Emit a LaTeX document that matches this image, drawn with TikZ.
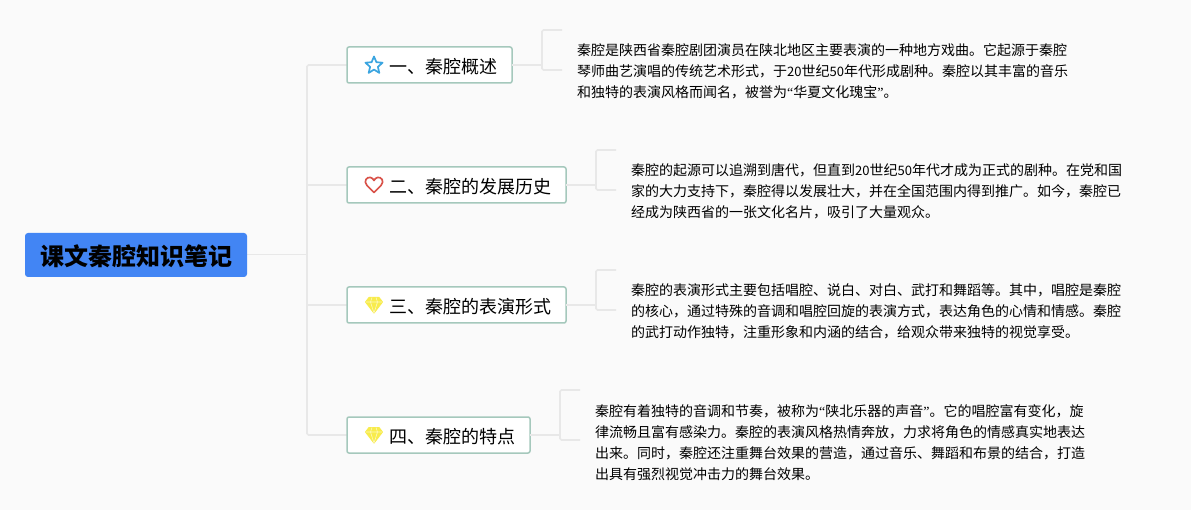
\documentclass[tikz,border=0pt]{standalone}
\usepackage{fontspec}
\setmainfont{Noto Sans CJK SC}
\newfontfamily\dgfont[Scale=0.93]{Noto Sans CJK SC}
\newfontfamily\qfont{Liberation Serif}
\newcommand{\dg}[1]{{\dgfont #1}}
\newcommand{\qopen}{{\qfont “}}
\newcommand{\qclose}{{\qfont ”}}
\definecolor{bgc}{HTML}{FAFAFA}
\definecolor{linec}{HTML}{E8E8E8}
\definecolor{edgec}{HTML}{A5C8BC}
\definecolor{rootc}{HTML}{4285F4}
\definecolor{starc}{HTML}{3BA5E0}
\definecolor{heartc}{HTML}{D9534A}
\definecolor{gemc}{HTML}{F8EC4C}
\definecolor{gemline}{HTML}{FDF8C0}
\tikzset{
  rootbox/.style={draw=none,fill=rootc,rounded corners=3pt,minimum width=222pt,minimum height=44pt,inner sep=0pt,outer sep=0pt,anchor=north west},
  topicbox/.style={draw=edgec,line width=1.5pt,fill=white,rounded corners=2pt,minimum height=36pt,inner sep=0pt,outer sep=0pt,anchor=north west},
  toplabel/.style={inner sep=0pt,anchor=west,font=\fontsize{18}{22}\selectfont},
  bodytext/.style={inner sep=0pt,anchor=west,align=left,font=\fontsize{14}{21}\selectfont},
  link/.style={draw=linec,line width=1.7pt,rounded corners=1.5pt},
  glyph/.style={line width=1.7pt,line join=round},
}
\begin{document}
\begin{tikzpicture}[x=1pt,y=-1pt]
\useasboundingbox[fill=bgc] (0,0) rectangle (1191,510);
% trunk
\coordinate (tt) at (307,65);
\coordinate (tm) at (307,254.5);
\coordinate (t2) at (307,185);
\coordinate (t3) at (307,305);
\coordinate (tb) at (307,435);
% brackets
\coordinate (s1t) at (562,30); \coordinate (k1t) at (542,30); \coordinate (k1b) at (542,70); \coordinate (s1b) at (562,70);
\coordinate (s2t) at (616,150); \coordinate (k2t) at (596,150); \coordinate (k2b) at (596,190); \coordinate (s2b) at (616,190);
\coordinate (s3t) at (616,270); \coordinate (k3t) at (596,270); \coordinate (k3b) at (596,310); \coordinate (s3b) at (616,310);
\coordinate (s4t) at (580,390); \coordinate (k4t) at (560,390); \coordinate (k4b) at (560,440); \coordinate (s4b) at (580,440);
% links drawn first
\coordinate (rootE) at (247,254.5);
\coordinate (b1W) at (347,65); \coordinate (b2W) at (347,185); \coordinate (b3W) at (347,305); \coordinate (b4W) at (347,435);
\draw[link] (rootE) -- (tm);
\draw[link] (b1W) -- (tt) -- (tb) -- (b4W);
\draw[link] (t2) -- (b2W);
\draw[link] (t3) -- (b3W);
\draw[link] (s1t) -- (k1t) -- (k1b) -- (s1b);
\draw[link] (s2t) -- (k2t) -- (k2b) -- (s2b);
\draw[link] (s3t) -- (k3t) -- (k3b) -- (s3b);
\draw[link] (s4t) -- (k4t) -- (k4b) -- (s4b);
% nodes
\node[rootbox] (root) at (25,233) {};
\node[font=\fontsize{24}{28}\selectfont\bfseries,inner sep=0pt] (roottext) at (136.5,256.5) {课文秦腔知识笔记};
\node[topicbox,minimum width=165pt] (b1) at (347,47) {};
\node[topicbox,minimum width=219pt] (b2) at (347,167) {};
\node[topicbox,minimum width=219pt] (b3) at (347,287) {};
\node[topicbox,minimum width=183pt] (b4) at (347,417) {};
\draw[link] (b1.east) -- (k1t |- b1.east);
\draw[link] (b2.east) -- (k2t |- b2.east);
\draw[link] (b3.east) -- (k3t |- b3.east);
\draw[link] (b4.east) -- (k4t |- b4.east);
\node[toplabel] (l1) at (389,66.5) {一、秦腔概述};
\node[toplabel] (l2) at (389,186.5) {二、秦腔的发展历史};
\node[toplabel] (l3) at (389,306.5) {三、秦腔的表演形式};
\node[toplabel] (l4) at (389,436.5) {四、秦腔的特点};
% body
\node[bodytext] (t1) at (577,71.5) {秦腔是陕西省秦腔剧团演员在陕北地区主要表演的一种地方戏曲。它起源于秦腔\\琴师曲艺演唱的传统艺术形式，于\dg{20}世纪\dg{50}年代形成剧种。秦腔以其丰富的音乐\\和独特的表演风格而闻名，被誉为\qopen 华夏文化瑰宝\qclose 。};
\node[bodytext] (t2b) at (631,191.5) {秦腔的起源可以追溯到唐代，但直到\dg{20}世纪\dg{50}年代才成为正式的剧种。在党和国\\家的大力支持下，秦腔得以发展壮大，并在全国范围内得到推广。如今，秦腔已\\经成为陕西省的一张文化名片，吸引了大量观众。};
\node[bodytext] (t3b) at (631,311.5) {秦腔的表演形式主要包括唱腔、说白、对白、武打和舞蹈等。其中，唱腔是秦腔\\的核心，通过特殊的音调和唱腔回旋的表演方式，表达角色的心情和情感。秦腔\\的武打动作独特，注重形象和内涵的结合，给观众带来独特的视觉享受。};
\node[bodytext] (t4b) at (595,443) {秦腔有着独特的音调和节奏，被称为\qopen 陕北乐器的声音\qclose 。它的唱腔富有变化，旋\\律流畅且富有感染力。秦腔的表演风格热情奔放，力求将角色的情感真实地表达\\出来。同时，秦腔还注重舞台效果的营造，通过音乐、舞蹈和布景的结合，打造\\出具有强烈视觉冲击力的舞台效果。};
% star
\draw[glyph,draw=starc] (374,56.5) -- (376.4,62.2) -- (382.6,62.7) -- (377.9,66.8) -- (379.3,72.9) -- (374,69.6) -- (368.7,72.9) -- (370.1,66.8) -- (365.4,62.7) -- (371.6,62.2) -- cycle;
% heart
\draw[glyph,draw=heartc] (374,192.5) -- (367,185.5) .. controls (363,181) and (367,176.5) .. (370.5,177.5) .. controls (372,178) and (373.5,179) .. (374,180.5) .. controls (374.5,179) and (376,178) .. (377.5,177.5) .. controls (381,176.5) and (385,181) .. (381,185.5) -- cycle;
% gems
\foreach \cy in {305,435}{
  \fill[gemc,draw=gemc,line width=1pt,line join=round] (369,\cy-7.5) -- (379,\cy-7.5) -- (382.5,\cy-3) -- (374,\cy+8) -- (365.5,\cy-3) -- cycle;
  \draw[gemline,line width=.6pt] (365.5,\cy-3) -- (382.5,\cy-3) (370.5,\cy-3) -- (374,\cy+8) -- (377.5,\cy-3) (370.5,\cy-3) -- (372,\cy-7.5) (377.5,\cy-3) -- (376,\cy-7.5);
}
\end{tikzpicture}
\end{document}
